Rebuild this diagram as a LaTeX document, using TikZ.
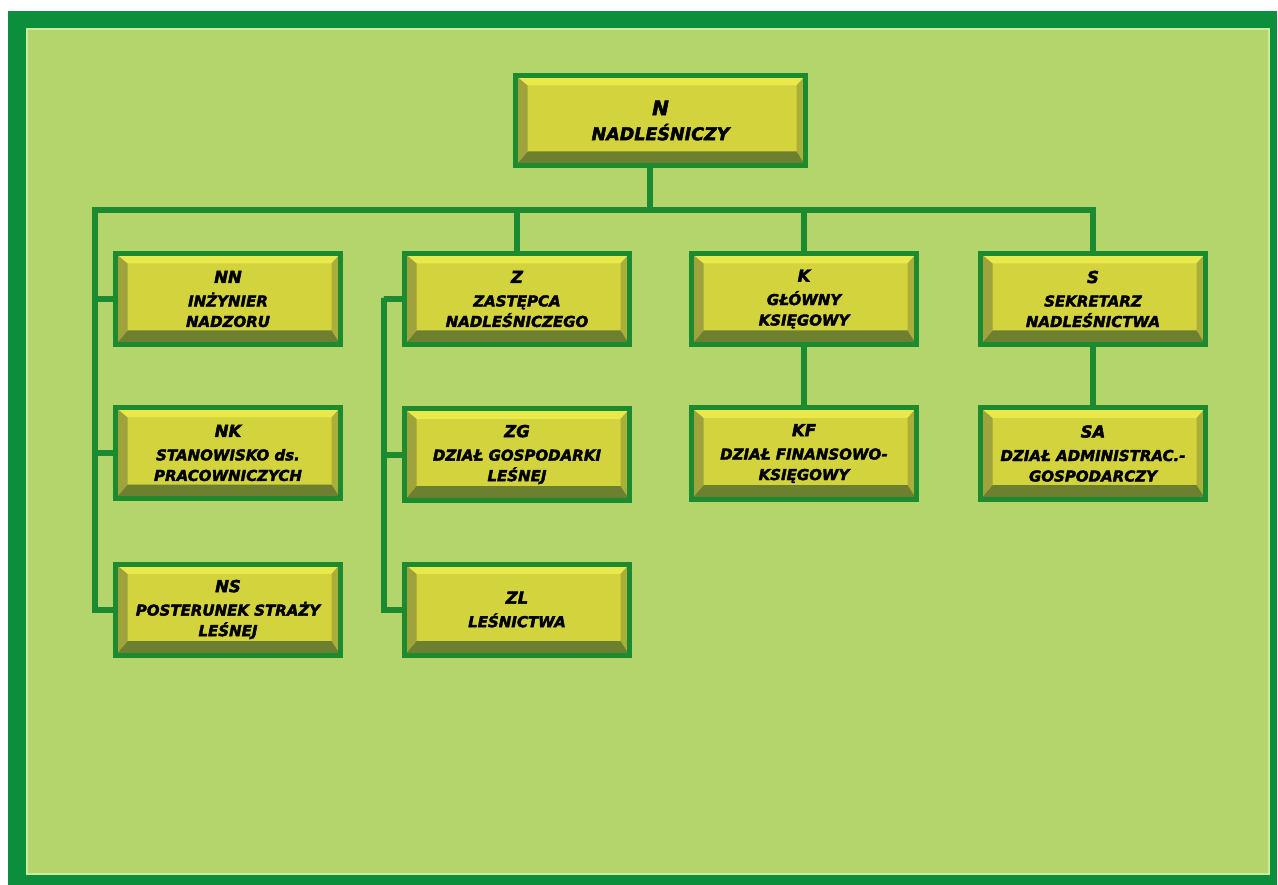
\documentclass[tikz,border=0pt]{standalone}
\usepackage{fontspec}
\newfontfamily\boxfont{DejaVu Sans}[BoldItalicFeatures={FakeBold=2.5}]
\definecolor{bg}{HTML}{B4D56C}
\definecolor{frame}{HTML}{0B8F3C}
\definecolor{hilite}{HTML}{CBEC98}
\definecolor{lineg}{HTML}{1C8A30}
\definecolor{bord}{HTML}{1C8B2F}
\definecolor{face}{HTML}{D3D33E}
\definecolor{bevT}{HTML}{E9E94C}
\definecolor{bevL}{HTML}{A0A23C}
\definecolor{bevR}{HTML}{ACAE3A}
\definecolor{bevB}{HTML}{6C8030}
\newcommand{\ttlsz}{\fontsize{16.5}{21}\selectfont}
\pgfdeclarelayer{bottom}
\pgfdeclarelayer{links}
\pgfsetlayers{bottom,links,main}
\tikzset{
  conn/.style={draw=lineg, line width=6pt, line join=miter},
  bbox/.style={draw=bord, line width=5pt, fill=face, inner sep=0pt,
    minimum width=225pt, minimum height=91pt, align=center,
    font=\boxfont\bfseries\itshape\fontsize{15}{20.5}\selectfont, text=black,
    path picture={
      \coordinate (pa) at (path picture bounding box.north west);
      \coordinate (pb) at (path picture bounding box.north east);
      \coordinate (pc) at (path picture bounding box.south east);
      \coordinate (pd) at (path picture bounding box.south west);
      \coordinate (qa) at ([xshift=12pt,yshift=-10pt]pa);
      \coordinate (qb) at ([xshift=-9pt,yshift=-10pt]pb);
      \coordinate (qc) at ([xshift=-9pt,yshift=14pt]pc);
      \coordinate (qd) at ([xshift=12pt,yshift=14pt]pd);
      \fill[bevT] (pa) -- (pb) -- (qb) -- (qa) -- cycle;
      \fill[bevR] (pb) -- (pc) -- (qc) -- (qb) -- cycle;
      \fill[bevB] (pc) -- (pd) -- (qd) -- (qc) -- cycle;
      \fill[bevL] (pd) -- (pa) -- (qa) -- (qd) -- cycle;
    }}
}
\begin{document}
\begin{tikzpicture}[x=1pt,y=-1pt]
\useasboundingbox (0,0) rectangle (1278,885);
\begin{pgfonlayer}{bottom}
\fill[white] (0,0) rectangle (1278,885);
\fill[frame] (8,11) rectangle (1277,885);
\fill[bg] (26,28) rectangle (1270,875);
\draw[hilite, line width=1.5pt] (27,29) rectangle (1269,874);
\end{pgfonlayer}

\coordinate (hub) at (650,210);
\coordinate (busL) at (95,210);
\coordinate (zb) at (384,298);

\node[bbox, minimum width=290pt, minimum height=90pt,
  font=\boxfont\bfseries\itshape\fontsize{17.5}{25}\selectfont] (N) at (660.5,120.5)
  {{\fontsize{20}{25}\selectfont N}\\NADLEŚNICZY};
\node[bbox] (NN) at (228,299) {{\ttlsz NN}\\[3pt]INŻYNIER\\NADZORU};
\node[bbox] (NK) at (228,453) {{\ttlsz NK}\\[3pt]STANOWISKO ds.\\PRACOWNICZYCH};
\node[bbox] (NS) at (228,609.5) {{\ttlsz NS}\\[3pt]POSTERUNEK STRAŻY\\LEŚNEJ};
\node[bbox] (Z) at (517,299) {{\ttlsz Z}\\[3pt]ZASTĘPCA\\NADLEŚNICZEGO};
\node[bbox] (ZG) at (517,454.5) {{\ttlsz ZG}\\[3pt]DZIAŁ GOSPODARKI\\LEŚNEJ};
\node[bbox] (ZL) at (517,609.5) {{\ttlsz ZL}\\[3pt]LEŚNICTWA};
\node[bbox] (K) at (804,299) {{\ttlsz K}\\[3pt]GŁÓWNY\\KSIĘGOWY};
\node[bbox] (KF) at (804,453.5) {{\ttlsz KF}\\[3pt]DZIAŁ FINANSOWO-\\KSIĘGOWY};
\node[bbox] (S) at (1093,299) {{\ttlsz S}\\[3pt]SEKRETARZ\\NADLEŚNICTWA};
\node[bbox] (SA) at (1093,453.5) {{\ttlsz SA}\\[3pt]DZIAŁ ADMINISTRAC.-\\GOSPODARCZY};

\begin{pgfonlayer}{links}
\draw[conn] (hub |- N.south) -- (hub);
\draw[conn] (NS.west) -| (busL) -- (S.north |- busL) -- (S.north);
\draw[conn] (NN.west) -- (NN.west -| busL);
\draw[conn] (NK.west) -- (NK.west -| busL);
\draw[conn] (Z.north) -- (Z.north |- busL);
\draw[conn] (K.north) -- (K.north |- busL);
\draw[conn] (Z.west) -| (zb) |- (ZL.west);
\draw[conn] (ZG.west) -- (ZG.west -| zb);
\draw[conn] (K.south) -- (KF.north);
\draw[conn] (S.south) -- (SA.north);
\end{pgfonlayer}
\end{tikzpicture}
\end{document}
